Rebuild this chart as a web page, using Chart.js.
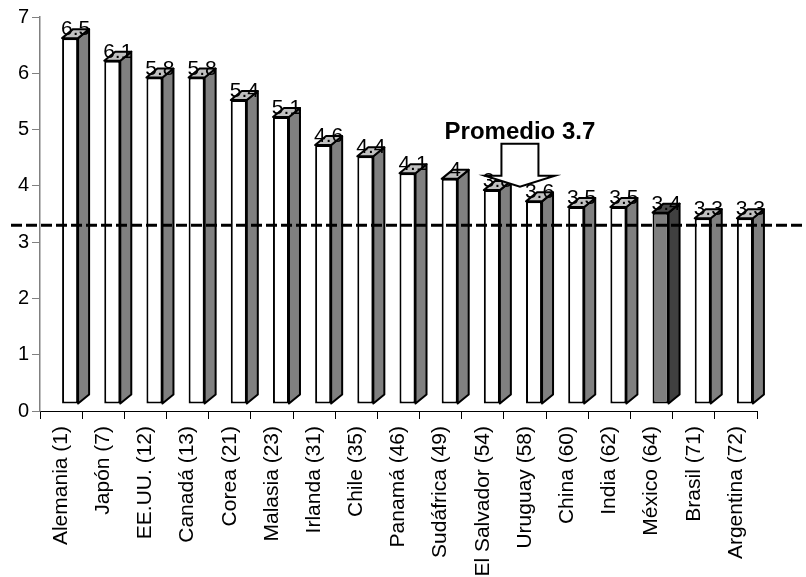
<!DOCTYPE html>
<html>
<head>
<meta charset="utf-8">
<title>Ranking</title>
<script src="https://cdn.jsdelivr.net/npm/chart.js@4/dist/chart.umd.min.js"></script>
<style>
  html, body { margin: 0; padding: 0; background: #ffffff; }
  #wrap { width: 806px; height: 577px; }
</style>
</head>
<body>
<div id="wrap"><canvas id="chart" width="806" height="577"></canvas></div>
<script>
// Countries with their rank in parentheses
const categories = [
  'Alemania (1)', 'Japón (7)', 'EE.UU. (12)', 'Canadá (13)', 'Corea (21)',
  'Malasia (23)', 'Irlanda (31)', 'Chile (35)', 'Panamá (46)', 'Sudáfrica (49)',
  'El Salvador (54)', 'Uruguay (58)', 'China (60)', 'India (62)', 'México (64)',
  'Brasil (71)', 'Argentina (72)'
];
// Score per country
const scores = [6.5, 6.1, 5.8, 5.8, 5.4, 5.1, 4.6, 4.4, 4.1, 4, 3.8, 3.6, 3.5, 3.5, 3.4, 3.3, 3.3];
const yTickValues = [0, 1, 2, 3, 4, 5, 6, 7];
const highlighted = 'México (64)';
const averageValue = 3.7;
const averageText = 'Promedio ' + averageValue;
const referenceLevel = 3.3;

const FONT = '"Liberation Sans", Arial, Helvetica, sans-serif';
const DEPTH_X = 11, DEPTH_Y = -9;   // 3D extrusion of each bar
const SHIFT_X = 9, SHIFT_Y = -7;    // bar block sits slightly right/up of the floor line

const frontColors = categories.map(c => c === highlighted ? '#808080' : '#ffffff');
const sideColors  = categories.map(c => c === highlighted ? '#404040' : '#808080');
const topColors   = categories.map(c => c === highlighted ? '#4a4a4a' : '#c0c0c0');

function poly(ctx, pts, fill) {
  ctx.beginPath();
  ctx.moveTo(pts[0][0], pts[0][1]);
  for (let i = 1; i < pts.length; i++) ctx.lineTo(pts[i][0], pts[i][1]);
  ctx.closePath();
  ctx.fillStyle = fill;
  ctx.fill();
  ctx.stroke();
}

const bars3d = {
  id: 'bars3d',
  beforeDatasetsDraw(chart) {
    const ctx = chart.ctx;
    ctx.save();
    ctx.translate(SHIFT_X, SHIFT_Y);
  },
  afterDatasetsDraw(chart) {
    const ctx = chart.ctx;
    const meta = chart.getDatasetMeta(0);
    ctx.lineWidth = 2;
    ctx.lineJoin = 'round';
    ctx.strokeStyle = '#000000';
    meta.data.forEach((bar, i) => {
      const { x, y, base, width } = bar.getProps(['x', 'y', 'base', 'width'], true);
      const l = x - width / 2, r = x + width / 2;
      // side face
      poly(ctx, [[r, y], [r + DEPTH_X, y + DEPTH_Y], [r + DEPTH_X, base + DEPTH_Y], [r, base]], sideColors[i]);
      // top face
      poly(ctx, [[l, y], [r, y], [r + DEPTH_X, y + DEPTH_Y], [l + DEPTH_X, y + DEPTH_Y]], topColors[i]);
    });
    ctx.restore();
  },
  afterDraw(chart) {
    const ctx = chart.ctx;
    const xs = chart.scales.x, ys = chart.scales.y;
    const meta = chart.getDatasetMeta(0);

    // dashed reference line across the whole width
    const yRef = ys.getPixelForValue(referenceLevel);
    ctx.save();
    ctx.setTransform(1, 0, 0, 1, 0, 0);
    ctx.strokeStyle = '#000000';
    ctx.lineWidth = 3;
    ctx.setLineDash([11, 4]);
    ctx.beginPath();
    ctx.moveTo(11, yRef);
    ctx.lineTo(chart.width, yRef);
    ctx.stroke();
    ctx.restore();

    // value labels on the bar tops
    ctx.save();
    ctx.setTransform(1, 0, 0, 1, SHIFT_X, SHIFT_Y);
    ctx.font = '21px ' + FONT;
    ctx.fillStyle = '#000000';
    ctx.textAlign = 'center';
    ctx.textBaseline = 'alphabetic';
    meta.data.forEach((bar, i) => {
      const { x, y } = bar.getProps(['x', 'y'], true);
      ctx.fillText(String(scores[i]), x + DEPTH_X / 2, y - 3);
    });
    ctx.restore();

    // "Promedio" call-out: hollow block arrow pointing down between the bars
    const idx = scores.findIndex(v => v < averageValue);
    const tipX = (xs.getPixelForValue(idx - 1) + xs.getPixelForValue(idx)) / 2 + SHIFT_X + 7;
    const tipY = ys.getPixelForValue(averageValue) - 16;
    const shaftHalf = 18.5, wingHalf = 35;
    const wingY = tipY - 11, topY = tipY - 43;
    ctx.save();
    ctx.setTransform(1, 0, 0, 1, 0, 0);
    ctx.lineWidth = 2;
    ctx.lineJoin = 'miter';
    ctx.strokeStyle = '#000000';
    poly(ctx, [
      [tipX - shaftHalf, topY], [tipX + shaftHalf, topY], [tipX + shaftHalf, wingY],
      [tipX + wingHalf, wingY], [tipX, tipY], [tipX - wingHalf, wingY], [tipX - shaftHalf, wingY]
    ], '#ffffff');
    ctx.font = 'bold 24px ' + FONT;
    ctx.fillStyle = '#000000';
    ctx.textAlign = 'center';
    ctx.textBaseline = 'alphabetic';
    ctx.fillText(averageText, tipX, topY - 5);
    ctx.restore();
  }
};

new Chart(document.getElementById('chart'), {
  type: 'bar',
  data: {
    labels: categories,
    datasets: [{
      data: scores,
      backgroundColor: frontColors,
      borderColor: '#000000',
      borderWidth: 2,
      borderSkipped: false,
      barPercentage: 0.38,
      categoryPercentage: 1,
      clip: false
    }]
  },
  options: {
    responsive: false,
    animation: false,
    devicePixelRatio: 1,
    layout: { padding: { top: 17, right: 49, left: 0, bottom: 0 } },
    plugins: { legend: { display: false }, tooltip: { enabled: false } },
    scales: {
      x: {
        afterFit(scale) { scale.height = 166; },
        grid: { drawOnChartArea: false, offset: true, tickLength: 8, color: '#000000', lineWidth: 1 },
        border: { color: '#000000', width: 1 },
        ticks: {
          minRotation: 90, maxRotation: 90, autoSkip: false, padding: 7,
          color: '#000000', font: { family: FONT, size: 21 }
        }
      },
      y: {
        min: 0, max: 7,
        afterFit(scale) { scale.width = 40; },
        afterBuildTicks(scale) { scale.ticks = yTickValues.map(v => ({ value: v })); },
        grid: { drawOnChartArea: false, tickLength: 8, color: '#808080', lineWidth: 1 },
        border: { color: '#808080', width: 1.5 },
        ticks: { padding: 3, color: '#000000', font: { family: FONT, size: 20 } }
      }
    }
  },
  plugins: [bars3d]
});
</script>
</body>
</html>
